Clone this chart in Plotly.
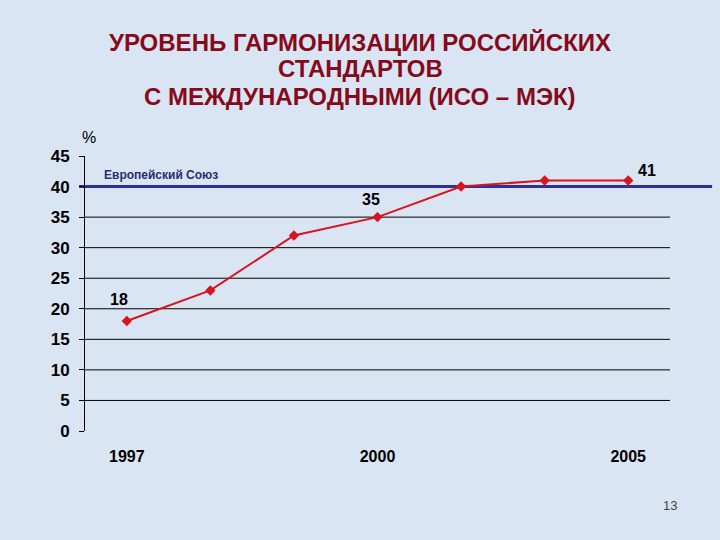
"""Уровень гармонизации российских стандартов с международными (ИСО – МЭК)."""

import plotly.graph_objects as go

# data
year_labels = ["1997", "", "", "2000", "", "", "2005"]
harmonization_pct = [18, 23, 32, 35, 40, 41, 41]
labelled_points = [0, 3, 6]  # points that carry a value label
eu_level = 40
grid_levels = [5, 10, 15, 20, 25, 30, 35]
title_lines = [
    "УРОВЕНЬ ГАРМОНИЗАЦИИ РОССИЙСКИХ",
    "СТАНДАРТОВ",
    "С МЕЖДУНАРОДНЫМИ (ИСО – МЭК)",
]

font_family = "Liberation Sans, Arial, sans-serif"
bg_color = "#D9E5F3"
red = "#D8141E"
navy = "#2E3192"

# plot area in pixels: left 85, right 670, top 156, bottom 431
PX_L, PX_R, PX_T, PX_B = 85, 670, 156, 431


def px_to_paper(px_x=None, px_y=None):
    out = []
    if px_x is not None:
        out.append((px_x - PX_L) / (PX_R - PX_L))
    if px_y is not None:
        out.append((PX_B - px_y) / (PX_B - PX_T))
    return out[0] if len(out) == 1 else out


x_pos = list(range(len(harmonization_pct)))

fig = go.Figure()
fig.add_trace(
    go.Scatter(
        x=x_pos,
        y=harmonization_pct,
        mode="lines+markers",
        line=dict(color=red, width=2),
        marker=dict(symbol="diamond", size=8, color=red),
        showlegend=False,
        hoverinfo="y",
    )
)

# horizontal grid, without the 0 and 45 levels
for lvl in grid_levels:
    fig.add_shape(
        type="line", xref="paper", yref="y", x0=0, x1=1, y0=lvl, y1=lvl,
        line=dict(color="black", width=1), layer="below",
    )

# EU reference level
fig.add_shape(
    type="line", xref="paper", yref="y", x0=-0.01, x1=1.072, y0=eu_level, y1=eu_level,
    line=dict(color=navy, width=3), layer="below",
)
fig.add_annotation(
    x=px_to_paper(px_x=102), xref="paper", y=eu_level, yref="y", yshift=12,
    text="<b>Европейский Союз</b>", showarrow=False, xanchor="left",
    font=dict(family=font_family, size=12, color="#2B2E6E"),
)

# value labels
label_shifts = {0: (-8, 22), 3: (-7, 18), 6: (19, 10)}
for i in labelled_points:
    dx, dy = label_shifts[i]
    fig.add_annotation(
        x=x_pos[i], y=harmonization_pct[i], xshift=dx, yshift=dy,
        text=f"<b>{harmonization_pct[i]}</b>", showarrow=False,
        font=dict(family=font_family, size=16, color="black"),
    )

# title, one line per annotation to keep the tight line spacing
for line, py in zip(title_lines, [42, 69, 97]):
    fig.add_annotation(
        x=px_to_paper(px_x=360), xref="paper", xanchor="center",
        y=px_to_paper(px_y=py), yref="paper", yanchor="middle",
        text=f"<b>{line}</b>", showarrow=False,
        font=dict(family=font_family, size=24, color="#860A1A"),
    )

fig.add_annotation(
    x=px_to_paper(px_x=80), xref="paper", xanchor="left",
    y=px_to_paper(px_y=137), yref="paper", yanchor="middle",
    text="%", showarrow=False,
    font=dict(family=font_family, size=16, color="black"),
)
fig.add_annotation(
    x=px_to_paper(px_x=670), xref="paper", xanchor="center",
    y=px_to_paper(px_y=505), yref="paper", yanchor="middle",
    text="13", showarrow=False,
    font=dict(family=font_family, size=13, color="#444444"),
)

fig.update_layout(
    width=720,
    height=540,
    margin=dict(l=PX_L, r=720 - PX_R, t=PX_T, b=540 - PX_B),
    paper_bgcolor=bg_color,
    plot_bgcolor=bg_color,
    font=dict(family=font_family),
)
fig.update_xaxes(
    range=[-0.5, 6.5],
    tickvals=[x_pos[i] for i, t in enumerate(year_labels) if t],
    ticktext=[f"<b>{t}</b>" for t in year_labels if t],
    tickfont=dict(family=font_family, size=16, color="black"),
    showgrid=False, zeroline=False, showline=False, ticks="",
    ticklabelstandoff=14,
)
fig.update_yaxes(
    range=[0, 45],
    tickvals=[0, 5, 10, 15, 20, 25, 30, 35, 40, 45],
    ticktext=[f"<b>{v}</b>" for v in [0, 5, 10, 15, 20, 25, 30, 35, 40, 45]],
    tickfont=dict(family=font_family, size=17, color="black"),
    showgrid=False, zeroline=False, showline=True, linecolor="black", linewidth=1,
    ticks="outside", ticklen=5, tickcolor="black",
    ticklabelstandoff=6,
)

fig.write_html(
    "out.html",
    config={"displayModeBar": False},
    post_script=f"document.body.style.margin='0';document.body.style.background='{bg_color}';",
)
